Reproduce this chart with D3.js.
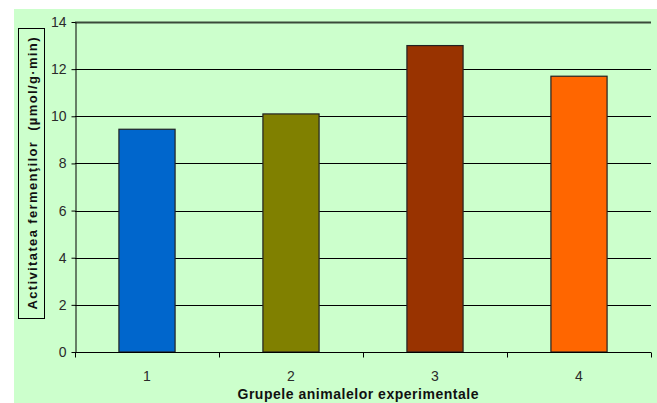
<!DOCTYPE html>
<html><head><meta charset="utf-8">
<script src="https://cdn.jsdelivr.net/npm/d3@7/dist/d3.min.js"></script>
<style>body{margin:0;background:#fff;} svg{display:block;}</style>
</head><body>
<svg id="c" width="657" height="403"></svg>
<script>
const categories = ["1", "2", "3", "4"];
const values = [9.45, 10.1, 13.0, 11.7];
const colors = ["#0066cc", "#808000", "#993300", "#ff6600"];
const yTicks = [0, 2, 4, 6, 8, 10, 12, 14];
const yLabel = "Activitatea fermenţilor  (µmol/g·min)";
const xLabel = "Grupele animalelor experimentale";

(function () {
const FONT = "'Liberation Sans', Arial, sans-serif";
const svg = d3.select("#c");
svg.append("rect").attr("x", 14).attr("y", 9).attr("width", 643).attr("height", 394).attr("fill", "#ccffcc");

const pL = 75, pR = 651, pT = 22, pB = 352;
const x = d3.scaleBand().domain(categories).range([pL, pR]).paddingInner(0.61).paddingOuter(0.305);
const y = d3.scaleLinear().domain([0, 14]).range([pB, pT]);

// gridlines
svg.append("g").selectAll("line").data(yTicks.filter(d => d > 0)).join("line")
  .attr("x1", pL).attr("x2", pR)
  .attr("y1", d => Math.round(y(d)) + 0.5).attr("y2", d => Math.round(y(d)) + 0.5)
  .attr("stroke", d => d === 14 ? "#3a4a3a" : "#000")
  .attr("stroke-width", d => d === 14 ? 2 : 1);

// bars
svg.append("g").selectAll("rect").data(values).join("rect")
  .attr("x", (d, i) => x(categories[i]))
  .attr("y", d => y(d))
  .attr("width", x.bandwidth())
  .attr("height", d => y(0) - y(d))
  .attr("fill", (d, i) => colors[i])
  .attr("stroke", "#222").attr("stroke-width", 1.2);

// y axis
const ya = svg.append("g").attr("transform", `translate(${pL + 0.5},0)`)
  .call(d3.axisLeft(y).tickValues(yTicks).tickSize(4).tickSizeOuter(0).tickPadding(5));
ya.select(".domain").attr("stroke", "#000");
ya.selectAll(".tick line").attr("stroke", "#000");
ya.selectAll("text").attr("font-family", FONT).attr("font-size", 14).attr("fill", "#2a2a2a");

// x axis
const xa = svg.append("g").attr("transform", `translate(0,${pB + 0.5})`);
xa.append("line").attr("x1", pL).attr("x2", pR).attr("stroke", "#000");
const tickXs = [pL, ...categories.map((c, i) => pL + x.step() * (i + 1))];
tickXs.forEach(tx => {
  xa.append("line").attr("x1", Math.round(tx) + 0.5).attr("x2", Math.round(tx) + 0.5).attr("y1", 0).attr("y2", 5).attr("stroke", "#000");
});
xa.selectAll("text.lbl").data(categories).join("text").attr("class", "lbl")
  .attr("x", c => x(c) + x.bandwidth() / 2).attr("y", 28)
  .attr("text-anchor", "middle")
  .attr("font-family", FONT).attr("font-size", 14).attr("fill", "#2a2a2a")
  .text(c => c);

// x label
svg.append("text").attr("x", 358).attr("y", 399).attr("text-anchor", "middle")
  .attr("font-family", FONT).attr("font-size", 14).attr("font-weight", "bold").attr("fill", "#111")
  .attr("textLength", 241).attr("lengthAdjust", "spacing")
  .text(xLabel);

// y label box
svg.append("rect").attr("x", 18.5).attr("y", 28.5).attr("width", 26).attr("height", 290)
  .attr("fill", "none").attr("stroke", "#000").attr("stroke-width", 1);
svg.append("text").attr("transform", "translate(36.5,173.5) rotate(-90)")
  .attr("text-anchor", "middle").style("white-space", "pre")
  .attr("font-family", FONT).attr("font-size", 13).attr("font-weight", "bold").attr("fill", "#111")
  .attr("textLength", 272).attr("lengthAdjust", "spacing")
  .text(yLabel);
})();
</script>
</body></html>
